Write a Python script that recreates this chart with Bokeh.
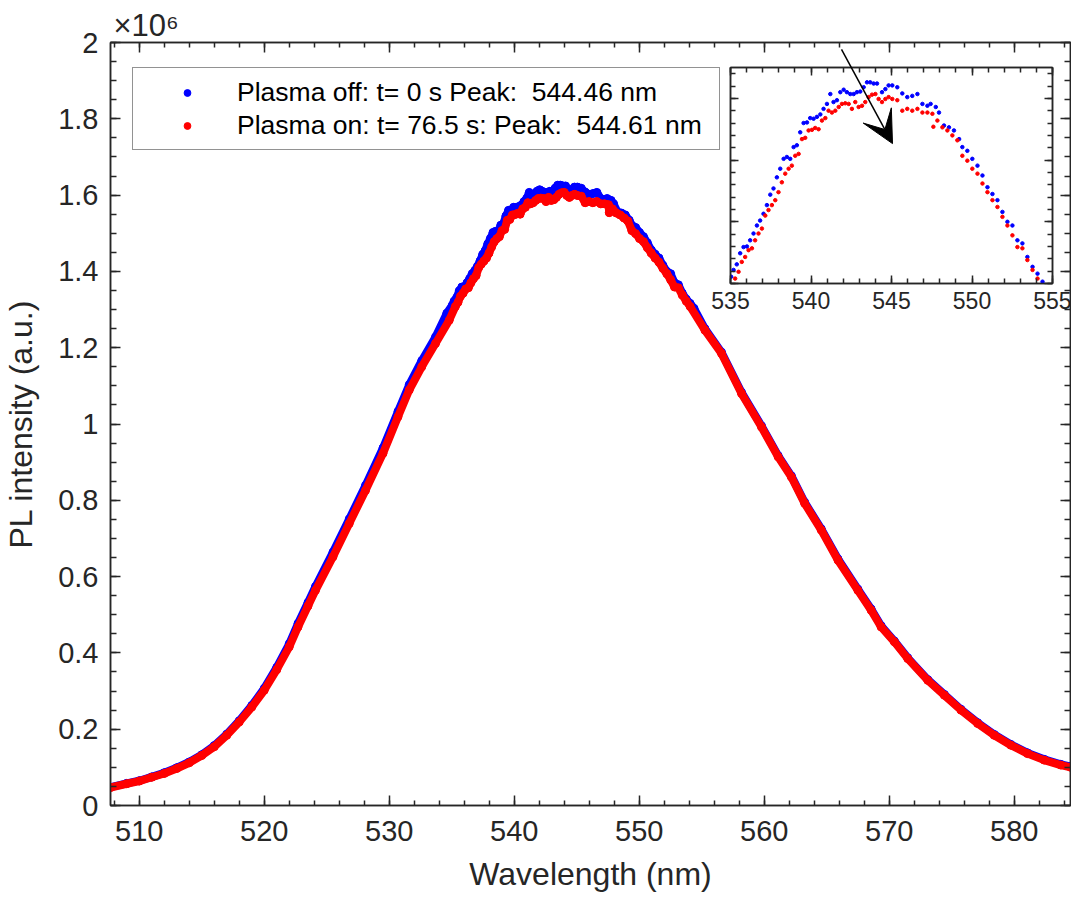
from bokeh.plotting import figure
from bokeh.models import (Range1d, LinearAxis, FixedTicker, CustomJSTickFormatter, Legend,
                          LegendItem, Title, Arrow, VeeHead, ColumnDataSource)
from bokeh.layouts import column
from bokeh.embed import file_html
from bokeh.resources import INLINE

# ---------------- data (intensity in units of 1e6 counts) ----------------
wl_off = [507.7, 509, 510, 511, 512, 513, 514, 515, 516, 517, 518, 519, 520, 521, 522, 522.7, 523.5,
          524.1, 525.5, 526.8, 528.1, 529.5, 530.7, 531.6, 532.6, 533.7, 534.6,
          535.04, 535.19, 535.39, 535.60, 535.81, 536.02, 536.22, 536.43, 536.64, 536.84, 537.05, 537.26,
          537.47, 537.67, 537.88, 538.09, 538.30, 538.50, 538.71, 538.92, 539.12, 539.33, 539.54, 539.75,
          539.95, 540.16, 540.37, 540.58, 540.78, 540.99, 541.20, 541.40, 541.61, 541.82, 542.03, 542.23,
          542.44, 542.65, 542.85, 543.06, 543.27, 543.48, 543.68, 543.89, 544.10, 544.41, 544.62, 544.82,
          545.05, 545.36, 545.67, 545.98, 546.29, 546.61, 546.92, 547.23, 547.43, 547.75, 547.95, 548.26,
          548.57, 548.88, 549.20, 549.40, 549.71, 550.02, 550.34, 550.65, 550.96, 551.27, 551.58, 551.89,
          552.20, 552.51, 552.82, 553.13, 553.44, 553.76, 554.07, 554.38,
          555.25, 556.58, 558.18, 559.78, 561.11, 562.17, 563.23, 564.56, 565.90, 567.49, 568.55, 569.35,
          570.41, 571.48, 573.08, 574.41, 575.74, 577.07, 578.40, 579.73, 581.06, 582.39, 583.72, 584.52]
pl_off = [0.048, 0.058, 0.065, 0.075, 0.086, 0.099, 0.114, 0.133, 0.157, 0.187, 0.222, 0.262, 0.307, 0.362,
          0.424, 0.477, 0.532, 0.574, 0.664, 0.751, 0.839, 0.937, 1.033, 1.103, 1.166, 1.228, 1.290,
          1.311, 1.322, 1.331, 1.349, 1.359, 1.360, 1.370, 1.381, 1.394, 1.402, 1.413, 1.427,
          1.444, 1.454, 1.472, 1.486, 1.502, 1.505, 1.502, 1.521, 1.524, 1.545, 1.560, 1.561,
          1.568, 1.567, 1.570, 1.574, 1.583, 1.591, 1.607, 1.594, 1.597, 1.610, 1.614, 1.610,
          1.607, 1.607, 1.610, 1.611, 1.618, 1.626, 1.626, 1.624, 1.624, 1.610, 1.615, 1.621,
          1.621, 1.618, 1.608, 1.602, 1.604, 1.607, 1.591, 1.588, 1.591, 1.586, 1.577, 1.556,
          1.553, 1.548, 1.534, 1.521, 1.515, 1.502, 1.491, 1.475, 1.456, 1.445, 1.435, 1.416,
          1.400, 1.394, 1.370, 1.365, 1.343, 1.327, 1.316, 1.303,
          1.250, 1.188, 1.083, 0.995, 0.917, 0.864, 0.795, 0.725, 0.646, 0.567, 0.515, 0.471,
          0.431, 0.387, 0.330, 0.291, 0.252, 0.217, 0.186, 0.160, 0.138, 0.121, 0.108, 0.102]

wl_on = [507.7, 509, 510, 511, 512, 513, 514, 515, 516, 517, 518, 519, 520, 521, 522, 522.7, 523.5,
         524.1, 525.5, 526.8, 528.1, 529.5, 530.7, 531.6, 532.6, 533.7, 534.8,
         535.29, 535.50, 535.70, 535.91, 536.12, 536.33, 536.53, 536.74, 536.95, 537.16, 537.36, 537.57,
         537.78, 537.98, 538.19, 538.40, 538.61, 538.81, 539.02, 539.23, 539.44, 539.64, 539.85, 540.06,
         540.26, 540.47, 540.68, 540.89, 541.09, 541.30, 541.51, 541.72, 541.92, 542.13, 542.34, 542.54,
         542.75, 542.96, 543.17, 543.37, 543.58, 543.79, 544.00, 544.20, 544.41, 544.62, 544.82,
         545.05, 545.36, 545.67, 545.98, 546.29, 546.61, 546.92, 547.23, 547.54, 547.60, 547.85, 548.16,
         548.47, 548.78, 549.09, 549.40, 549.71, 550.02, 550.34, 550.65, 550.96, 551.27, 551.58, 551.89,
         552.20, 552.51, 552.82, 553.13, 553.44, 553.76, 554.07,
         555.25, 556.58, 558.18, 559.78, 561.11, 562.17, 563.23, 564.56, 565.90, 567.49, 568.55, 569.35,
         570.41, 571.48, 573.08, 574.41, 575.74, 577.07, 578.40, 579.73, 581.06, 582.39, 583.72, 584.52]
pl_on = [0.047, 0.057, 0.064, 0.074, 0.084, 0.097, 0.112, 0.131, 0.154, 0.184, 0.219, 0.258, 0.302, 0.356,
         0.416, 0.468, 0.523, 0.564, 0.652, 0.739, 0.826, 0.923, 1.019, 1.089, 1.150, 1.211, 1.272,
         1.308, 1.319, 1.335, 1.343, 1.354, 1.357, 1.370, 1.381, 1.389, 1.410, 1.419, 1.427,
         1.435, 1.448, 1.464, 1.478, 1.486, 1.491, 1.507, 1.510, 1.534, 1.536, 1.548, 1.549,
         1.552, 1.550, 1.564, 1.568, 1.580, 1.577, 1.580, 1.586, 1.591, 1.592, 1.591, 1.583,
         1.594, 1.586, 1.588, 1.594, 1.602, 1.606, 1.607, 1.599, 1.594, 1.599, 1.602,
         1.599, 1.597, 1.580, 1.583, 1.580, 1.583, 1.577, 1.577, 1.575, 1.554, 1.564, 1.553,
         1.548, 1.540, 1.532, 1.507, 1.499, 1.486, 1.478, 1.462, 1.448, 1.435, 1.424, 1.408,
         1.394, 1.378, 1.359, 1.357, 1.338, 1.322, 1.308,
         1.246, 1.185, 1.080, 0.992, 0.914, 0.861, 0.792, 0.722, 0.643, 0.564, 0.512, 0.468,
         0.429, 0.385, 0.328, 0.289, 0.250, 0.215, 0.184, 0.158, 0.136, 0.119, 0.106, 0.100]

label_off = "Plasma off: t= 0 s Peak:  544.46 nm"
label_on = "Plasma on: t= 76.5 s: Peak:  544.61 nm"
scale_text = "×10⁶"

x_major = [510, 520, 530, 540, 550, 560, 570, 580]
x_minor = list(range(508, 586, 2))
y_major = [0, 0.2, 0.4, 0.6, 0.8, 1.0, 1.2, 1.4, 1.6, 1.8, 2.0]
y_minor = [i * 0.05 for i in range(41)]
ins_x_major = [535, 540, 545, 550, 555]
ins_x_minor = list(range(535, 556))
ins_y_major = [1.3, 1.4, 1.5, 1.6]
ins_y_minor = [1.3 + i * 0.02 for i in range(18)]

FONT = "Liberation Sans"
AX = "#262626"
BLUE = "#0000FF"
RED = "#FF0000"

blank_fmt = CustomJSTickFormatter(code="return '';")


def style_axis(ax, labels, major_in, minor_in, font_px=29):
    ax.axis_line_color = AX
    ax.axis_line_width = 1.5
    ax.major_tick_line_color = AX
    ax.minor_tick_line_color = AX
    ax.major_tick_line_width = 1.5
    ax.minor_tick_line_width = 1.5
    ax.major_tick_in = major_in
    ax.major_tick_out = 0
    ax.minor_tick_in = minor_in
    ax.minor_tick_out = 0
    if labels:
        ax.major_label_text_font = FONT
        ax.major_label_text_font_size = f"{font_px}px"
        ax.major_label_text_color = AX
    else:
        ax.formatter = blank_fmt
        ax.major_label_text_font_size = "1px"
        ax.major_label_standoff = 0
    ax.axis_label_text_font = FONT
    ax.axis_label_text_font_style = "normal"
    ax.axis_label_text_font_size = "32px"
    ax.axis_label_text_color = AX


def no_align(fig):
    try:
        fig.frame_align = False
    except Exception:
        pass


# ---------------- inset (drawn first, underneath) ----------------
ins = figure(width=367, height=266, output_backend="svg", toolbar_location=None,
             x_range=Range1d(535, 555), y_range=Range1d(1.3, 1.65),
             min_border_left=26, min_border_right=19, min_border_top=10, min_border_bottom=40,
             x_axis_location=None, y_axis_location=None)
no_align(ins)
ins.xgrid.visible = False
ins.ygrid.visible = False
ins.outline_line_color = AX
ins.outline_line_width = 1.5
ins.background_fill_color = "white"
ins.border_fill_alpha = 0
ins.margin = (57, 0, 0, 704)

ixt = FixedTicker(ticks=ins_x_major, minor_ticks=ins_x_minor)
iyt = FixedTicker(ticks=ins_y_major, minor_ticks=ins_y_minor)
ibx = LinearAxis(ticker=ixt)
style_axis(ibx, True, 8, 5, font_px=23)
ibx.major_label_standoff = 8
ins.add_layout(ibx, "below")
itx = LinearAxis(ticker=ixt)
style_axis(itx, False, 8, 5)
ins.add_layout(itx, "above")
ily = LinearAxis(ticker=iyt)
style_axis(ily, False, 8, 5)
ins.add_layout(ily, "left")
iry = LinearAxis(ticker=iyt)
style_axis(iry, False, 8, 5)
ins.add_layout(iry, "right")

src_off = ColumnDataSource(dict(x=wl_off, y=pl_off))
src_on = ColumnDataSource(dict(x=wl_on, y=pl_on))

ins.scatter("x", "y", source=src_off, size=3.5, fill_color=BLUE, line_color=BLUE)
ins.scatter("x", "y", source=src_on, size=3.5, fill_color=RED, line_color=RED)

# ---------------- main figure (on top, transparent) ----------------
p = figure(width=1071, height=898, output_backend="svg", toolbar_location=None,
           x_range=Range1d(507.7, 584.5), y_range=Range1d(0, 2),
           min_border_left=107, min_border_right=1, min_border_top=42, min_border_bottom=93,
           x_axis_location=None, y_axis_location=None)
no_align(p)
p.margin = (-(57 + 266), 0, 0, 0)
p.xgrid.visible = False
p.ygrid.visible = False
p.outline_line_color = AX
p.outline_line_width = 1.5
p.background_fill_alpha = 0
p.border_fill_alpha = 0
p.title = Title(text=scale_text, align="left", offset=3, standoff=0, text_font=FONT,
                text_font_size="31px", text_font_style="normal", text_color=AX)

xt = FixedTicker(ticks=x_major, minor_ticks=x_minor)
yt = FixedTicker(ticks=y_major, minor_ticks=y_minor)
yfmt = CustomJSTickFormatter(code="return String(Number(tick.toFixed(2)));")

bx = LinearAxis(ticker=xt, axis_label="Wavelength (nm)")
style_axis(bx, True, 10, 5)
bx.major_label_standoff = 15
bx.axis_label_standoff = 12
p.add_layout(bx, "below")
tx = LinearAxis(ticker=xt)
style_axis(tx, False, 10, 5)
p.add_layout(tx, "above")
ly = LinearAxis(ticker=yt, formatter=yfmt, axis_label="PL intensity (a.u.)")
style_axis(ly, True, 10, 6)
ly.major_label_standoff = 12
ly.axis_label_standoff = 16
p.add_layout(ly, "left")
ry = LinearAxis(ticker=yt)
style_axis(ry, False, 10, 6)
p.add_layout(ry, "right")

p.line("x", "y", source=src_off, line_width=8, line_color=BLUE, line_join="round", line_cap="round")
s_off = p.scatter("x", "y", source=src_off, size=8, fill_color=BLUE, line_color=BLUE)
p.line("x", "y", source=src_on, line_width=8, line_color=RED, line_join="round", line_cap="round")
s_on = p.scatter("x", "y", source=src_on, size=8, fill_color=RED, line_color=RED)

legend = Legend(items=[LegendItem(label=label_off, renderers=[s_off]),
                       LegendItem(label=label_on, renderers=[s_on])],
                location=(22, 655), orientation="vertical", padding=8, spacing=1, margin=0,
                glyph_width=92, glyph_height=17, label_height=32, label_width=474, label_standoff=4,
                label_text_font=FONT, label_text_font_size="26.5px", label_text_color="black",
                border_line_color=AX, border_line_width=1.5,
                background_fill_color="white", background_fill_alpha=1.0)
p.add_layout(legend)

p.add_layout(Arrow(end=VeeHead(size=32, fill_color="black", line_color="black"),
                   x_start=566.18, y_start=1.982, x_end=570.26, y_end=1.735,
                   line_width=1.5, line_color="black"))

layout = column(ins, p)
open("out.html", "w").write(file_html(layout, INLINE))
